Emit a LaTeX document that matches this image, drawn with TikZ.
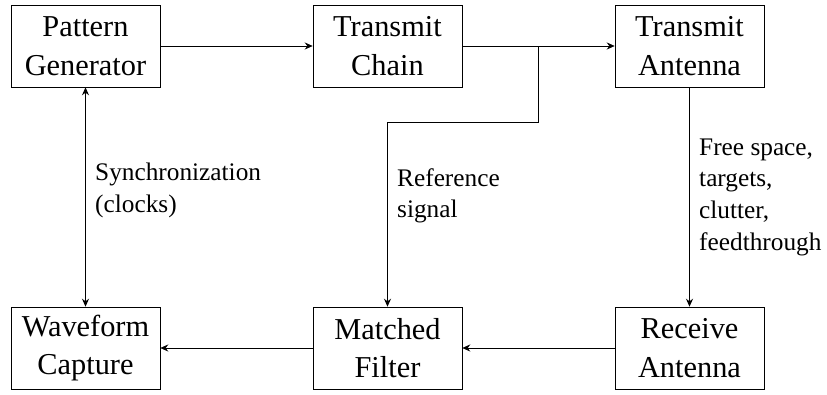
\documentclass[tikz,border=0pt]{standalone}
\usepackage{fontspec}
\setmainfont{Liberation Serif}
\usepackage{tikz}
\usetikzlibrary{positioning, calc, arrows.meta}

\begin{document}
\begin{tikzpicture}[
    block/.style={rectangle, draw=black, minimum width=2.98cm, minimum
      height=1.64cm, align=center, font=\LARGE},
    remark/.style={font=\Large, align=left, xshift=0.07cm},
    line/.style={->, >={Stealth[length=4.5pt, width=4pt]}},
    node distance=6.04cm, on grid
    ]

    \useasboundingbox (0,0) rectangle (16.54,-7.88);

    % Blocs
    \node[block] (PatternGen) at (1.71,-0.92) {Pattern\\Generator};
    \node[block, right=of PatternGen] (TxChain) {Transmit\\Chain};
    \node[block, right=of TxChain] (TxAntenna) {Transmit\\Antenna};
    \node[block, below=of PatternGen] (WaveCapture) {Waveform\\Capture};
    \node[block, below=of TxChain] (MatchFilter) {Matched\\Filter};
    \node[block, below=of TxAntenna] (RxAntenna) {Receive\\Antenna};

    % Prise du signal de reference
    \path (TxChain.east) -- (TxAntenna.west) coordinate[pos=0.5] (tap);
    \coordinate[below=1.52cm of tap] (bend);

    % Liaisons
    \draw[line] (PatternGen) -- (TxChain);
    \draw[line] (TxChain) -- (TxAntenna);
    \draw[line] (tap) -- (bend) -| node[remark, pos=0.7, right]
    {Reference\\signal} (MatchFilter);
    \draw[line] (TxAntenna) -- node[remark, pos=0.5, right]
    {Free space,\\targets,\\clutter,\\feedthrough} (RxAntenna);
    \draw[line] (RxAntenna) -- (MatchFilter);
    \draw[line] (MatchFilter) -- (WaveCapture);
    \draw[line, <->] (PatternGen) -- node[remark, pos=0.47, right]
    {Synchronization\\(clocks)} (WaveCapture);

  \end{tikzpicture}
\end{document}
